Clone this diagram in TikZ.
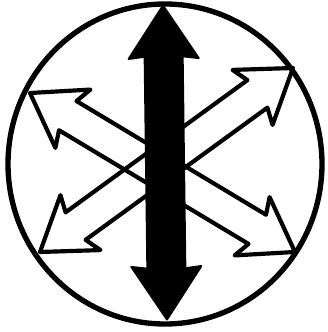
\documentclass[tikz,border=0pt]{standalone}
\begin{document}
\begin{tikzpicture}[x=0.3mm, y=0.3mm, line join=round,
    pics/dblarrow/.style n args={5}{code={
        \draw[pic actions] (#1,0) -- (#1-#2,#3) -- (#1-#2+#5,#4) -- (-#1+#2-#5,#4)
            -- (-#1+#2,#3) -- (-#1,0) -- (-#1+#2,-#3) -- (-#1+#2-#5,-#4)
            -- (#1-#2+#5,-#4) -- (#1-#2,-#3) -- cycle;
    }}]
    % Define colours
    \definecolor{borderColour}{HTML}{000000}
    \definecolor{fillColour}{HTML}{FFFFFF}

    % Fix the canvas
    \useasboundingbox (0,0) rectangle (327,332);

    % Draw outer circle
    \draw[borderColour, line width=1.6mm] (165,168) ellipse [x radius=157, y radius=160];

    % Draw white diagonal arrows
    \pic[draw=borderColour, line width=1.25mm, rotate=-30.96] at (162.5,159.5) {dblarrow={154.5}{50}{34}{17}{6}};
    \pic[draw=borderColour, line width=1.25mm, rotate=36.03] at (166.5,172) {dblarrow={156.4}{50}{34}{17}{6}};

    % Draw black vertical arrow
    \pic[draw=borderColour, fill=borderColour, line width=0.6mm, rotate=90.73] at (165,169.5) {dblarrow={157}{53}{35}{19}{2}};
\end{tikzpicture}
\end{document}
